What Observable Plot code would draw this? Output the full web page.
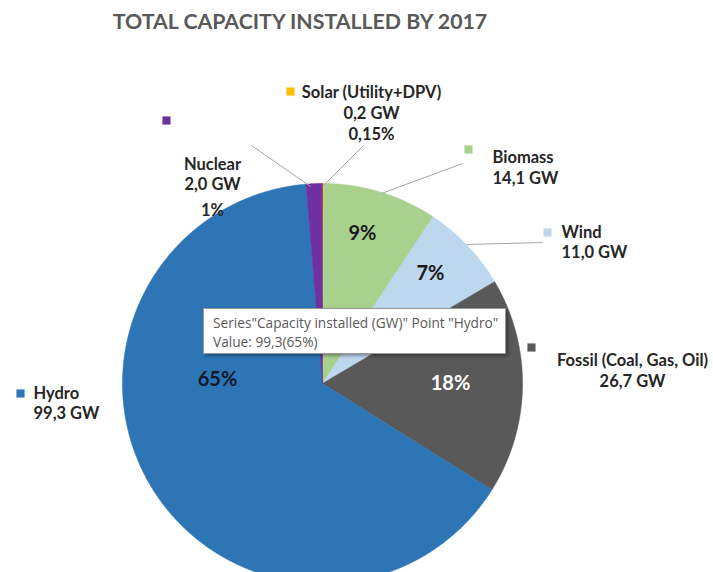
<!DOCTYPE html>
<html><head><meta charset="utf-8">
<script src="https://cdn.jsdelivr.net/npm/d3@7"></script>
<script src="https://cdn.jsdelivr.net/npm/@observablehq/plot@0.6"></script>
<style>
body{margin:0;background:#fff;width:713px;height:572px;overflow:hidden;position:relative;font-family:Lato,"Open Sans",sans-serif}
#title{position:absolute;left:0;top:0;width:600px;height:42px;line-height:42px;text-align:center;font-weight:bold;font-size:21.3px;color:#595959}
#chart{position:absolute;left:0;top:48px}
#tip{position:absolute;left:203px;top:308px;width:303px;height:46px;box-sizing:border-box;background:#fff;border:1px solid #9a9a9a;box-shadow:2px 2px 3px rgba(0,0,0,0.35);font-family:"Open Sans",sans-serif;font-size:13.7px;color:#595959;padding:4px 0 0 9px;line-height:19px;white-space:nowrap}
</style></head><body>
<div id="title">TOTAL CAPACITY INSTALLED BY 2017</div>
<div id="chart"></div>
<div id="tip"></div>
<script>
// ---- data ----
const categories = ["Solar (Utility+DPV)", "Biomass", "Wind", "Fossil (Coal, Gas, Oil)", "Hydro", "Nuclear"];
const values = [0.2, 14.1, 11.0, 26.7, 99.3, 2.0];
const valueLabels = ["0,2 GW", "14,1 GW", "11,0 GW", "26,7 GW", "99,3 GW", "2,0 GW"];
const percentLabels = ["0,15%", "9%", "7%", "18%", "65%", "1%"];
const seriesName = "Capacity installed (GW)";
const tooltipPoint = "Hydro";

// ---- styles / layout (page pixel positions converted below) ----
const colors = ["#FFC000", "#A9D18E", "#BDD7EE", "#595959", "#2E75B6", "#7030A0"];
const CX = 322, CY = 383, R = 200, SVG_TOP = 48;
const layout = {
  "Solar (Utility+DPV)": {sq: [290, 91], x: 371, ys: [92, 113, 134], anchor: "middle", pctOutside: true},
  "Biomass": {sq: [468, 149], x: 492, ys: [157, 178], anchor: "start", pct: [362, 233], pctFill: "#1a1a1a"},
  "Wind": {sq: [547, 232], x: 561, ys: [232, 252], anchor: "start", pct: [430, 273], pctFill: "#1a1a1a"},
  "Fossil (Coal, Gas, Oil)": {sq: [531, 347], x: 632, ys: [360, 381], anchor: "middle", pct: [450, 383], pctFill: "#ffffff"},
  "Hydro": {sq: [20, 393], x: 33, ys: [393, 413], anchor: "start", pct: [217, 379], pctFill: "#0d1a2b"},
  "Nuclear": {sq: [166, 120], x: 212, ys: [164, 184, 210], anchor: "middle", pctOutside: true}
};
const leaders = [
  {from: [251, 145], to: [310, 186]},
  {from: [363, 145], to: [322, 186]},
  {from: [462, 163], to: [381, 193]},
  {from: [542, 242], to: [466, 244]}
];
const px = p => p[0] - CX;
const py = p => CY - p[1];

// ---- slices ----
const arcs = d3.pie().sort(null).value(d => d)(values);
const slices = arcs.map((a, i) => {
  const pts = [{x: 0, y: 0}];
  const n = Math.max(2, Math.ceil((a.endAngle - a.startAngle) / (Math.PI / 720)));
  for (let k = 0; k <= n; k++) {
    const t = a.startAngle + (a.endAngle - a.startAngle) * k / n;
    pts.push({x: R * Math.sin(t), y: R * Math.cos(t)});
  }
  pts.push({x: 0, y: 0});
  return {pts, color: colors[i]};
});

const squares = categories.map((c, i) => ({x: px(layout[c].sq), y: py(layout[c].sq), color: colors[i]}));
const rows = [];
categories.forEach((c, i) => {
  const L = layout[c];
  const lines = [c, valueLabels[i]];
  if (L.pctOutside) lines.push(percentLabels[i]);
  lines.forEach((t, k) => rows.push({x: L.x - CX, y: CY - L.ys[k], text: t, anchor: L.anchor}));
});
const pctRows = categories.filter(c => layout[c].pct).map(c => {
  const i = categories.indexOf(c), L = layout[c];
  return {x: px(L.pct), y: py(L.pct), text: percentLabels[i], fill: L.pctFill};
});
const links = leaders.map(l => ({x1: px(l.from), y1: py(l.from), x2: px(l.to), y2: py(l.to)}));

const H = 572 - SVG_TOP;
const chart = Plot.plot({
  width: 713, height: H, margin: 0,
  style: {fontFamily: "Lato, sans-serif", background: "transparent", overflow: "visible"},
  x: {domain: [-CX, 713 - CX], axis: null},
  y: {domain: [(CY - SVG_TOP) - H, CY - SVG_TOP], axis: null},
  marks: [
    ...slices.map(s => Plot.line(s.pts, {x: "x", y: "y", fill: s.color, stroke: s.color, strokeWidth: 0.6})),
    Plot.link(links, {x1: "x1", y1: "y1", x2: "x2", y2: "y2", stroke: "#a6a6a6", strokeWidth: 1}),
    ...squares.map(s => Plot.dot([s], {x: "x", y: "y", symbol: "square", r: 4.6, fill: s.color, stroke: "none"})),
    Plot.text(rows.filter(r => r.anchor === "start"), {x: "x", y: "y", text: "text", textAnchor: "start", fontSize: 16.5, fontWeight: "bold", fill: "#262626"}),
    Plot.text(rows.filter(r => r.anchor === "middle"), {x: "x", y: "y", text: "text", textAnchor: "middle", fontSize: 16.5, fontWeight: "bold", fill: "#262626"}),
    Plot.text(pctRows, {x: "x", y: "y", text: "text", fill: "fill", fontSize: 20, fontWeight: "bold"})
  ]
});
document.getElementById("chart").appendChild(chart);

const hi = categories.indexOf(tooltipPoint);
const pctExact = Math.round(values[hi] / d3.sum(values) * 100);
document.getElementById("tip").innerHTML =
  `Series"${seriesName}" Point "${tooltipPoint}"<br>Value: ${String(values[hi]).replace(".", ",")}(${pctExact}%)`;
</script>
</body></html>
